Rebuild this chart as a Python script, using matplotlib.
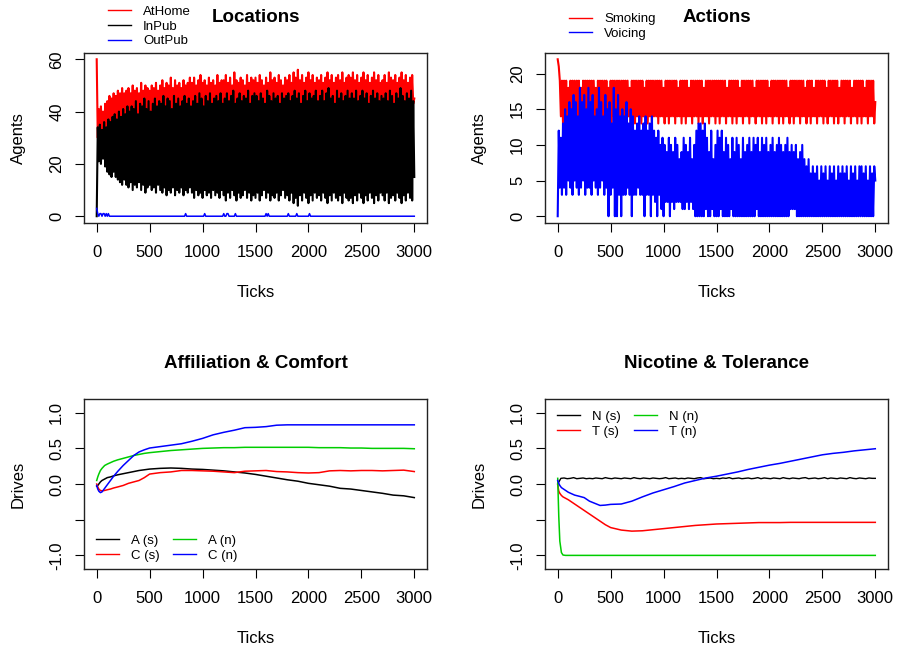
import matplotlib
matplotlib.use("Agg")
import matplotlib.pyplot as plt
from matplotlib.lines import Line2D

plt.rcParams['font.family'] = ['Liberation Sans', 'DejaVu Sans']
# keep every sample of the dense series
plt.rcParams['path.simplify'] = False

W, H = 897, 646

# ---------------- simulation output ----------------
# agent counts, sampled every 10 ticks (0 .. 3000), one row = 300 ticks
ticks10 = list(range(0, 3001, 10))

in_pub = [
    0, 34, 21, 35, 20, 33, 22, 36, 19, 34, 17, 37, 16, 36, 15, 38, 17, 39, 15, 37, 14, 40, 13, 38, 12, 41, 14, 39, 12, 42,
    11, 40, 13, 42, 10, 41, 12, 44, 11, 39, 13, 43, 10, 42, 12, 45, 9, 41, 11, 44, 12, 40, 10, 43, 11, 45, 9, 42, 12, 44,
    10, 43, 9, 46, 11, 42, 8, 45, 10, 44, 9, 41, 11, 46, 8, 43, 10, 45, 9, 42, 11, 44, 8, 46, 10, 43, 9, 45, 11, 42,
    9, 44, 7, 46, 10, 43, 8, 47, 9, 45, 7, 42, 10, 46, 8, 44, 9, 47, 7, 43, 10, 45, 8, 46, 9, 44, 7, 47, 10, 43,
    8, 45, 6, 47, 9, 44, 7, 46, 10, 48, 8, 43, 6, 45, 9, 47, 7, 44, 8, 46, 10, 45, 7, 48, 9, 43, 6, 46, 8, 47,
    7, 46, 9, 44, 6, 47, 8, 45, 10, 43, 7, 48, 9, 46, 6, 44, 8, 47, 7, 45, 9, 46, 6, 43, 8, 47, 10, 45, 7, 46,
    8, 47, 6, 44, 9, 46, 5, 48, 7, 45, 4, 47, 8, 43, 6, 46, 9, 48, 7, 44, 5, 47, 8, 45, 6, 46, 9, 48, 7, 44,
    8, 46, 6, 48, 9, 44, 7, 47, 5, 49, 8, 45, 6, 46, 9, 43, 7, 48, 6, 45, 8, 47, 5, 44, 9, 46, 7, 48, 6, 45,
    7, 47, 5, 45, 8, 48, 6, 44, 9, 46, 7, 48, 5, 45, 8, 47, 6, 43, 9, 46, 7, 48, 5, 45, 8, 47, 6, 44, 9, 46,
    8, 45, 6, 47, 9, 44, 5, 48, 7, 46, 8, 43, 6, 47, 9, 45, 7, 49, 5, 46, 8, 44, 6, 47, 9, 45, 7, 48, 6, 44,
    15,
]

at_home = [
    60, 30, 41, 29, 42, 31, 40, 30, 43, 32, 44, 33, 46, 34, 45, 35, 47, 34, 46, 36, 48, 35, 47, 37, 49, 36, 47, 38, 48, 37,
    49, 38, 47, 39, 50, 37, 48, 40, 49, 38, 47, 39, 51, 38, 48, 40, 50, 37, 49, 39, 48, 38, 50, 40, 49, 37, 51, 39, 48, 40,
    50, 39, 52, 40, 49, 38, 51, 41, 50, 39, 53, 40, 49, 38, 52, 41, 50, 39, 51, 40, 49, 38, 52, 41, 50, 39, 51, 40, 53, 39,
    51, 40, 53, 41, 50, 42, 52, 39, 54, 41, 51, 40, 52, 42, 50, 41, 53, 39, 51, 42, 52, 40, 50, 41, 54, 42, 51, 40, 52, 41,
    52, 41, 54, 40, 51, 42, 53, 41, 50, 42, 55, 40, 52, 41, 51, 43, 53, 40, 52, 42, 50, 41, 54, 42, 51, 40, 53, 41, 52, 42,
    53, 42, 51, 41, 54, 43, 52, 40, 50, 42, 53, 41, 51, 43, 55, 42, 52, 40, 53, 41, 51, 42, 54, 43, 52, 41, 50, 42, 53, 41,
    52, 42, 54, 41, 51, 43, 55, 42, 53, 41, 56, 42, 52, 43, 54, 41, 51, 42, 53, 43, 55, 41, 52, 42, 54, 43, 51, 41, 53, 42,
    52, 42, 54, 41, 51, 43, 53, 42, 55, 40, 52, 43, 54, 42, 51, 41, 53, 43, 54, 42, 52, 41, 55, 43, 51, 42, 53, 40, 54, 43,
    53, 41, 55, 43, 52, 40, 54, 42, 51, 43, 53, 41, 55, 42, 52, 41, 54, 43, 51, 42, 53, 40, 55, 43, 52, 41, 54, 42, 51, 43,
    52, 42, 54, 41, 51, 43, 55, 40, 53, 42, 52, 43, 54, 41, 51, 42, 53, 40, 55, 42, 52, 43, 54, 41, 51, 42, 53, 40, 54, 43,
    45,
]

out_pub = [
    3, 1, 0, 1, 1, 0, 1, 1, 0, 1, 0, 1, 0, 0, 0, 0, 0, 0, 0, 0, 0, 0, 0, 0, 0, 0, 0, 0, 0, 0,
    0, 0, 0, 0, 0, 0, 0, 0, 0, 0, 0, 0, 0, 0, 0, 0, 0, 0, 0, 0, 0, 0, 0, 0, 0, 0, 0, 0, 0, 0,
    0, 0, 0, 0, 0, 0, 0, 0, 0, 0, 0, 0, 0, 0, 0, 0, 0, 0, 0, 0, 0, 0, 0, 0, 1, 0, 0, 0, 0, 0,
    0, 0, 0, 0, 0, 0, 0, 0, 0, 0, 0, 0, 1, 0, 0, 0, 0, 0, 0, 0, 0, 0, 0, 0, 0, 0, 0, 0, 0, 0,
    1, 0, 0, 1, 1, 0, 0, 0, 0, 0, 0, 1, 0, 0, 0, 0, 0, 0, 0, 0, 0, 0, 0, 0, 0, 0, 0, 0, 0, 0,
    0, 0, 0, 0, 0, 0, 0, 0, 0, 0, 1, 0, 1, 0, 0, 0, 0, 0, 0, 0, 0, 0, 0, 0, 0, 0, 0, 0, 0, 0,
    0, 1, 0, 0, 0, 0, 0, 0, 0, 1, 0, 0, 0, 0, 0, 0, 0, 0, 0, 0, 0, 1, 0, 0, 0, 0, 0, 0, 0, 0,
    0, 0, 0, 0, 0, 0, 0, 0, 0, 0, 0, 0, 0, 0, 0, 0, 0, 0, 0, 0, 0, 0, 0, 0, 0, 0, 0, 0, 0, 0,
    0, 0, 0, 0, 0, 0, 0, 0, 0, 0, 0, 0, 0, 0, 0, 0, 0, 0, 0, 0, 0, 0, 0, 0, 0, 0, 0, 0, 0, 0,
    0, 0, 0, 0, 0, 0, 0, 0, 0, 0, 0, 0, 0, 0, 0, 0, 0, 0, 0, 0, 0, 0, 0, 0, 0, 0, 0, 0, 0, 0,
    0,
]

smoking = [
    22, 21, 19, 14, 19, 13, 19, 14, 19, 13, 18, 14, 19, 13, 19, 14, 19, 14, 19, 13, 19, 14, 18, 13, 19, 14, 19, 13, 19, 14,
    19, 13, 19, 14, 19, 14, 18, 13, 19, 14, 19, 13, 19, 14, 19, 14, 19, 13, 18, 14, 19, 13, 19, 14, 19, 14, 19, 13, 19, 14,
    19, 14, 19, 13, 19, 14, 19, 14, 18, 13, 19, 14, 19, 13, 19, 14, 19, 14, 19, 13, 19, 14, 18, 14, 19, 13, 19, 14, 19, 13,
    19, 14, 19, 14, 19, 13, 19, 14, 19, 14, 18, 13, 19, 14, 19, 13, 19, 14, 19, 14, 19, 13, 19, 14, 18, 14, 19, 13, 19, 14,
    19, 13, 19, 14, 18, 14, 19, 13, 19, 14, 19, 14, 19, 13, 19, 14, 19, 13, 18, 14, 19, 14, 19, 13, 19, 14, 19, 14, 19, 13,
    19, 14, 19, 13, 19, 14, 19, 14, 19, 13, 18, 14, 19, 14, 19, 13, 19, 14, 19, 13, 19, 14, 18, 14, 19, 13, 19, 14, 19, 14,
    19, 13, 19, 14, 19, 14, 18, 13, 19, 14, 19, 14, 19, 13, 19, 14, 19, 13, 19, 14, 18, 14, 19, 13, 19, 14, 19, 14, 19, 13,
    19, 14, 19, 13, 19, 14, 19, 14, 18, 13, 19, 14, 19, 13, 19, 14, 19, 14, 19, 13, 19, 14, 19, 14, 18, 13, 19, 14, 19, 13,
    19, 14, 18, 14, 19, 13, 19, 14, 19, 14, 19, 13, 19, 14, 18, 13, 19, 14, 19, 14, 19, 13, 19, 14, 19, 13, 18, 14, 19, 14,
    19, 13, 19, 14, 19, 14, 19, 13, 18, 14, 19, 14, 19, 13, 19, 14, 19, 13, 19, 14, 18, 14, 19, 13, 19, 14, 19, 14, 19, 13,
    16,
]

voicing = [
    0, 12, 4, 11, 3, 13, 4, 15, 3, 14, 5, 16, 4, 15, 3, 17, 5, 16, 4, 14, 3, 18, 4, 16, 5, 17, 3, 15, 4, 18,
    4, 16, 3, 17, 5, 14, 4, 15, 3, 18, 4, 16, 5, 14, 3, 17, 4, 15, 0, 16, 3, 13, 4, 18, 0, 15, 0, 17, 3, 14,
    0, 15, 3, 14, 3, 16, 4, 13, 3, 15, 0, 14, 3, 12, 3, 13, 4, 14, 3, 12, 3, 13, 0, 14, 3, 12, 3, 13, 0, 14,
    3, 12, 2, 11, 0, 12, 3, 10, 1, 11, 0, 10, 2, 9, 2, 11, 0, 10, 2, 9, 1, 11, 2, 10, 2, 8, 2, 9, 1, 11,
    1, 10, 2, 9, 1, 11, 2, 8, 1, 10, 0, 12, 0, 13, 0, 13, 0, 12, 0, 13, 1, 11, 0, 9, 0, 12, 1, 8, 0, 10,
    0, 12, 0, 11, 1, 12, 0, 9, 0, 11, 0, 10, 0, 8, 1, 11, 0, 9, 0, 11, 0, 10, 0, 8, 0, 11, 0, 9, 0, 10,
    0, 11, 0, 9, 0, 11, 0, 10, 1, 11, 0, 9, 0, 11, 0, 10, 0, 11, 0, 9, 0, 10, 0, 11, 0, 9, 0, 10, 0, 11,
    0, 10, 0, 9, 0, 10, 0, 11, 0, 9, 1, 10, 1, 9, 1, 10, 0, 8, 0, 9, 0, 10, 0, 8, 0, 7, 0, 8, 0, 6,
    0, 7, 0, 6, 0, 7, 0, 5, 0, 7, 0, 6, 0, 7, 0, 5, 0, 7, 0, 6, 0, 7, 0, 5, 0, 7, 0, 6, 0, 7,
    0, 6, 0, 7, 0, 5, 0, 7, 0, 6, 0, 7, 0, 5, 0, 7, 0, 7, 0, 6, 0, 7, 0, 5, 0, 7, 0, 6, 0, 7,
    5,
]

# mean drives
t_drv = [0, 10, 20, 35, 50, 75, 100, 130, 160, 200, 250, 300, 350, 400, 450,
         500, 600, 700, 800, 900, 1000, 1100, 1200, 1300, 1400, 1500, 1600,
         1700, 1800, 1900, 2000, 2100, 2200, 2300, 2400, 2500, 2600, 2700,
         2800, 2900, 3000]

aff_s = [-0.03, -0.02, 0.0, 0.03, 0.05, 0.07, 0.09, 0.10, 0.115, 0.13, 0.145,
         0.16, 0.175, 0.19, 0.20, 0.21, 0.22, 0.225, 0.22, 0.21, 0.205, 0.195,
         0.185, 0.17, 0.155, 0.135, 0.11, 0.085, 0.06, 0.04, 0.01, -0.01,
         -0.03, -0.06, -0.07, -0.09, -0.11, -0.13, -0.155, -0.165, -0.19]
com_s = [0.0, -0.04, -0.07, -0.09, -0.095, -0.09, -0.08, -0.07, -0.055, -0.04,
         -0.02, 0.01, 0.03, 0.05, 0.09, 0.14, 0.16, 0.17, 0.19, 0.19, 0.185,
         0.18, 0.17, 0.16, 0.18, 0.185, 0.19, 0.175, 0.17, 0.16, 0.155, 0.16,
         0.185, 0.19, 0.185, 0.19, 0.19, 0.185, 0.19, 0.195, 0.175]
aff_n = [0.05, 0.10, 0.14, 0.19, 0.22, 0.26, 0.28, 0.30, 0.32, 0.34, 0.36, 0.38,
         0.40, 0.415, 0.43, 0.44, 0.455, 0.47, 0.48, 0.49, 0.50, 0.505, 0.51,
         0.51, 0.515, 0.515, 0.515, 0.515, 0.515, 0.515, 0.515, 0.51, 0.51,
         0.51, 0.505, 0.505, 0.50, 0.50, 0.50, 0.50, 0.495]
com_n = [-0.02, -0.07, -0.10, -0.12, -0.11, -0.06, -0.01, 0.05, 0.11, 0.18,
         0.26, 0.33, 0.40, 0.45, 0.48, 0.505, 0.525, 0.545, 0.565, 0.60, 0.64,
         0.69, 0.725, 0.755, 0.79, 0.795, 0.805, 0.825, 0.83, 0.83, 0.83, 0.83,
         0.83, 0.83, 0.83, 0.83, 0.83, 0.83, 0.83, 0.83, 0.83]

nic_n = [0.08, -0.45, -0.8, -0.96, -0.995, -1.0, -1.0, -1.0, -1.0, -1.0, -1.0,
         -1.0, -1.0, -1.0, -1.0, -1.0, -1.0, -1.0, -1.0, -1.0, -1.0, -1.0,
         -1.0, -1.0, -1.0, -1.0, -1.0, -1.0, -1.0, -1.0, -1.0, -1.0, -1.0,
         -1.0, -1.0, -1.0, -1.0, -1.0, -1.0, -1.0, -1.0]
tol_s = [0.0, -0.10, -0.13, -0.16, -0.18, -0.20, -0.22, -0.25, -0.28, -0.32,
         -0.37, -0.42, -0.47, -0.52, -0.57, -0.61, -0.645, -0.66, -0.655,
         -0.64, -0.625, -0.61, -0.595, -0.58, -0.57, -0.56, -0.555, -0.55,
         -0.545, -0.54, -0.54, -0.54, -0.537, -0.537, -0.537, -0.537, -0.537,
         -0.537, -0.537, -0.537, -0.537]
tol_n = [0.05, 0.01, -0.02, -0.05, -0.065, -0.09, -0.115, -0.135, -0.155, -0.17,
         -0.19, -0.24, -0.27, -0.30, -0.295, -0.285, -0.28, -0.24, -0.18,
         -0.125, -0.08, -0.035, 0.015, 0.05, 0.085, 0.11, 0.14, 0.17, 0.205,
         0.235, 0.265, 0.29, 0.32, 0.35, 0.38, 0.41, 0.43, 0.445, 0.465, 0.48,
         0.495]

# nicotine of smokers, every 30 ticks
ticks30 = list(range(0, 3001, 30))
nic_s = [
    0.00, 0.08, 0.085, 0.075, 0.08, 0.09, 0.075, 0.08, 0.085, 0.075,
    0.08, 0.075, 0.085, 0.08, 0.075, 0.09, 0.08, 0.075, 0.085, 0.08,
    0.075, 0.085, 0.08, 0.075, 0.09, 0.08, 0.075, 0.085, 0.08, 0.075,
    0.085, 0.08, 0.075, 0.08, 0.09, 0.075, 0.08, 0.085, 0.075, 0.08,
    0.075, 0.085, 0.08, 0.075, 0.085, 0.09, 0.075, 0.08, 0.085, 0.075,
    0.08, 0.075, 0.085, 0.08, 0.09, 0.075, 0.08, 0.085, 0.075, 0.08,
    0.085, 0.075, 0.08, 0.09, 0.075, 0.085, 0.08, 0.075, 0.085, 0.08,
    0.075, 0.09, 0.08, 0.075, 0.085, 0.08, 0.075, 0.085, 0.09, 0.075,
    0.08, 0.085, 0.075, 0.08, 0.09, 0.075, 0.085, 0.08, 0.075, 0.085,
    0.08, 0.075, 0.09, 0.08, 0.075, 0.085, 0.08, 0.075, 0.085, 0.08,
    0.08,
]

GREEN = '#00CD00'
XTICKS = [0, 500, 1000, 1500, 2000, 2500, 3000]
NOISY_LW = 1.5


def fx(x):
    return x / W


def fy(y):
    return 1 - y / H


def panel(fig, left, top, ylim, yticks, ylabels, title, ylabel):
    # plot box given in pixels, 343 x 169.5
    ax = fig.add_axes([fx(left), fy(top + 169.5), 343 / W, 169.5 / H])
    ax.set_xlim(-120, 3120)
    ax.set_ylim(*ylim)
    ax.set_xticks(XTICKS)
    ax.set_xticklabels([str(t) for t in XTICKS])
    ax.set_yticks(yticks)
    ax.set_yticklabels(ylabels, rotation=90, va='center')
    ax.tick_params(axis='x', direction='out', length=6.3, width=0.8,
                   labelsize=12, pad=10)
    ax.tick_params(axis='y', direction='out', length=6.3, width=0.8,
                   labelsize=12, pad=8)
    for sp in ax.spines.values():
        sp.set_linewidth(1.0)
        sp.set_color('#222222')
    cx = left + 171.5
    fig.text(fx(cx), fy(top - 31.5), title, ha='center', va='baseline',
             fontsize=13.5, fontweight='bold')
    fig.text(fx(cx), fy(top + 244), 'Ticks', ha='center', va='baseline',
             fontsize=12)
    fig.text(fx(left - 61.5), fy(top + 85), ylabel, ha='center',
             va='baseline', rotation=90, rotation_mode='anchor', fontsize=12)
    return ax


def legend(ax, fig, handles, x, y, ncol=1):
    ax.legend(handles=handles, loc='upper left',
              bbox_to_anchor=(fx(x), fy(y)), bbox_transform=fig.transFigure,
              frameon=False, fontsize=9.5, ncol=ncol, handlelength=1.75,
              handletextpad=0.9, labelspacing=0.2, columnspacing=1.0,
              borderpad=0, borderaxespad=0)


def key(color, label):
    return Line2D([], [], color=color, lw=1.0, label=label)


fig = plt.figure(figsize=(W / 100, H / 100), dpi=100)

# Locations
ax1 = panel(fig, 84, 53, (-2.4, 62.4), [0, 20, 40, 60],
            ['0', '20', '40', '60'], 'Locations', 'Agents')
ax1.plot(ticks10, at_home, color='red', lw=NOISY_LW)
ax1.plot(ticks10, in_pub, color='black', lw=NOISY_LW)
ax1.plot(ticks10, out_pub, color='blue', lw=1.1)
legend(ax1, fig, [key('red', 'AtHome'), key('black', 'InPub'),
                  key('blue', 'OutPub')], 108, 5.5)

# Actions
ax2 = panel(fig, 545, 53, (-0.88, 22.88), [0, 5, 10, 15, 20],
            ['0', '5', '10', '15', '20'], 'Actions', 'Agents')
ax2.plot(ticks10, smoking, color='red', lw=NOISY_LW)
ax2.plot(ticks10, voicing, color='blue', lw=NOISY_LW)
legend(ax2, fig, [key('red', 'Smoking'), key('blue', 'Voicing')], 569, 13)

drive_ticks = [-1.0, -0.5, 0.0, 0.5, 1.0]
drive_labels = ['-1.0', '', '0.0', '0.5', '1.0']

# Affiliation & Comfort
ax3 = panel(fig, 84, 399.3, (-1.188, 1.188), drive_ticks, drive_labels,
            'Affiliation & Comfort', 'Drives')
ax3.plot(t_drv, aff_s, color='black', lw=1.1)
ax3.plot(t_drv, com_s, color='red', lw=1.1)
ax3.plot(t_drv, aff_n, color=GREEN, lw=1.1)
ax3.plot(t_drv, com_n, color='blue', lw=1.1)
legend(ax3, fig, [key('black', 'A (s)'), key('red', 'C (s)'),
                  key(GREEN, 'A (n)'), key('blue', 'C (n)')], 96, 534.5, ncol=2)

# Nicotine & Tolerance
ax4 = panel(fig, 545, 399.3, (-1.188, 1.188), drive_ticks, drive_labels,
            'Nicotine & Tolerance', 'Drives')
ax4.plot(ticks30, nic_s, color='black', lw=1.0)
ax4.plot(t_drv, tol_s, color='red', lw=1.1)
ax4.plot(t_drv, nic_n, color=GREEN, lw=1.1)
ax4.plot(t_drv, tol_n, color='blue', lw=1.1)
legend(ax4, fig, [key('black', 'N (s)'), key('red', 'T (s)'),
                  key(GREEN, 'N (n)'), key('blue', 'T (n)')], 557, 410.5, ncol=2)

fig.savefig('out.png', dpi=100)
